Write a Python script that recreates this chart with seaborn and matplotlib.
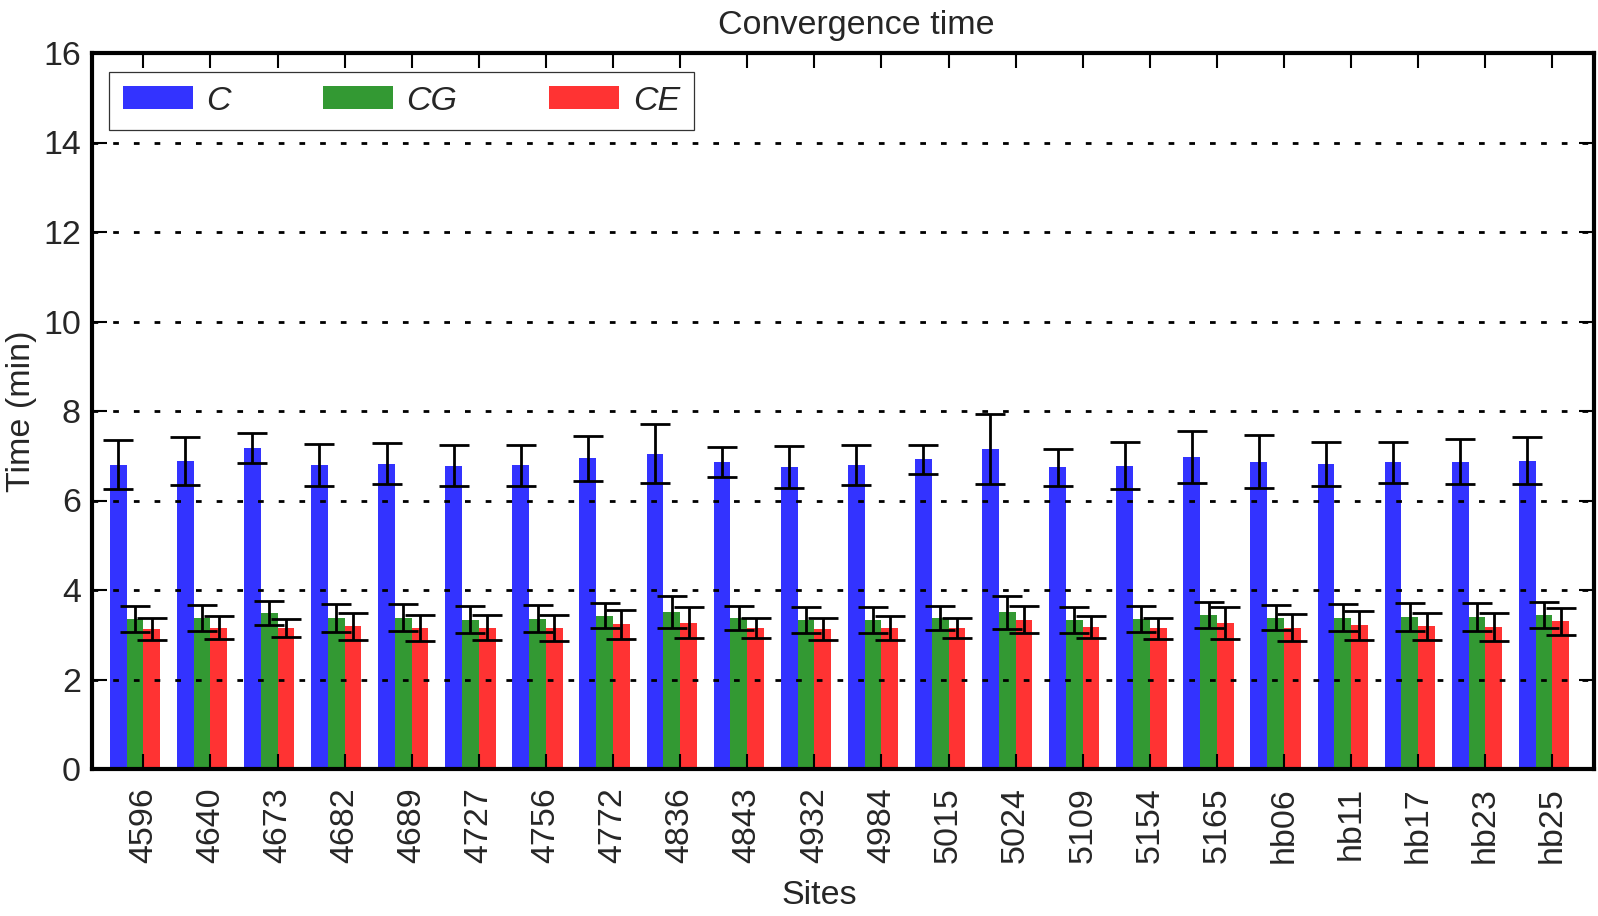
import matplotlib
matplotlib.use("Agg")
import matplotlib.pyplot as plt
import numpy as np
import pandas as pd
import seaborn as sns
from matplotlib.patches import Patch

# sites on the x axis
sites = ["4596", "4640", "4673", "4682", "4689", "4727", "4756", "4772", "4836",
         "4843", "4932", "4984", "5015", "5024", "5109", "5154", "5165",
         "hb06", "hb11", "hb17", "hb23", "hb25"]
methods = ["C", "CG", "CE"]

# mean convergence time (min) and std
c_mean = [6.80, 6.89, 7.17, 6.80, 6.82, 6.78, 6.79, 6.94, 7.05, 6.86, 6.74,
          6.79, 6.92, 7.15, 6.74, 6.78, 6.98, 6.87, 6.82, 6.85, 6.87, 6.89]
c_std = [0.55, 0.54, 0.34, 0.47, 0.46, 0.46, 0.46, 0.51, 0.67, 0.33, 0.47,
         0.44, 0.32, 0.78, 0.41, 0.53, 0.58, 0.60, 0.49, 0.45, 0.50, 0.52]
cg_mean = [3.36, 3.38, 3.48, 3.38, 3.38, 3.34, 3.36, 3.42, 3.51, 3.38, 3.33,
           3.34, 3.38, 3.50, 3.33, 3.36, 3.44, 3.38, 3.38, 3.39, 3.39, 3.45]
cg_std = [0.29, 0.29, 0.27, 0.31, 0.30, 0.30, 0.30, 0.28, 0.36, 0.27, 0.30,
          0.29, 0.27, 0.37, 0.28, 0.29, 0.30, 0.28, 0.30, 0.31, 0.31, 0.29]
ce_mean = [3.13, 3.16, 3.15, 3.19, 3.15, 3.16, 3.16, 3.23, 3.27, 3.15, 3.13,
           3.16, 3.15, 3.34, 3.18, 3.14, 3.26, 3.16, 3.21, 3.19, 3.18, 3.30]
ce_std = [0.25, 0.26, 0.20, 0.30, 0.29, 0.28, 0.29, 0.32, 0.34, 0.23, 0.24,
          0.27, 0.22, 0.30, 0.25, 0.23, 0.35, 0.30, 0.32, 0.30, 0.31, 0.30]

colors = ["#3333ff", "#339933", "#ff3333"]
fs = 24.5

sns.set_theme(style="ticks")
plt.rcParams["font.family"] = ["Liberation Sans", "DejaVu Sans"]

df = pd.DataFrame({
    "site": sites * 3,
    "method": [m for m in methods for _ in sites],
    "time": c_mean + cg_mean + ce_mean,
})

fig = plt.figure(figsize=(15.98, 9.16), dpi=100)
ax = fig.add_axes([92 / 1598, (916 - 769) / 916, 1502 / 1598, 716 / 916])

# 4th (empty) hue slot leaves the white gap after each group, like the original
sns.barplot(data=df, x="site", y="time", hue="method",
            hue_order=methods + ["pad"], palette=colors + ["white"],
            width=1.0, errorbar=None, saturation=1, linewidth=0,
            legend=False, ax=ax)

# error bars on top of each bar
for cont, err in zip(ax.containers, [c_std, cg_std, ce_std]):
    xs = [p.get_x() + p.get_width() / 2 for p in cont]
    ys = [p.get_height() for p in cont]
    ax.errorbar(xs, ys, yerr=err, fmt="none", ecolor="black",
                elinewidth=2, capsize=11, capthick=2, zorder=4)

ax.set_xlim(-0.765, 21.62)
ax.set_ylim(0, 16)
ax.set_yticks(np.arange(0, 17, 2))

ax.set_axisbelow(False)
ax.yaxis.grid(True, linestyle=(0, (2.05, 5.4)), color="black", linewidth=2)
ax.xaxis.grid(False)

for s in ax.spines.values():
    s.set_linewidth(3)
    s.set_color("black")

ax.tick_params(axis="both", direction="in", length=11, width=1.5,
               top=True, right=True, labelsize=fs, color="black")
ax.tick_params(axis="x", labelrotation=90, pad=13)
ax.tick_params(axis="y", pad=8)

ax.set_xlabel("Sites", fontsize=fs, labelpad=12, x=0.484)
ax.set_ylabel("Time (min)", fontsize=fs, labelpad=4)
ax.set_title("Convergence time", fontsize=fs, pad=14, x=0.509)

handles = [Patch(facecolor=c, edgecolor="none", label=m) for c, m in zip(colors, methods)]
leg = ax.legend(handles=handles, loc="upper left", bbox_to_anchor=(0.0113, 0.9735),
                borderaxespad=0, ncol=3, prop={"style": "italic", "size": fs},
                handlelength=2.06, handleheight=0.68, handletextpad=0.4,
                columnspacing=2.7, borderpad=0.4, fancybox=False, framealpha=1,
                edgecolor="#333333")
leg.get_frame().set_linewidth(0.9)

fig.savefig("out.png", dpi=100)
